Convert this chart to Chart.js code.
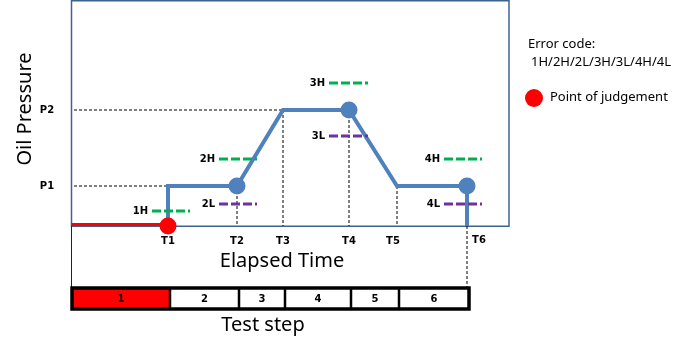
<!DOCTYPE html>
<html>
<head>
<meta charset="utf-8">
<script src="https://cdn.jsdelivr.net/npm/chart.js@4"></script>
<style>
  body { margin: 0; background: #fff; }
  canvas { display: block; }
</style>
</head>
<body>
<canvas id="myChart" width="700" height="354"></canvas>
<script>
// time marks on the elapsed time axis
const tickNames = ['T1', 'T2', 'T3', 'T4', 'T5', 'T6'];
const tickTimes = [9.7, 16.6, 21.2, 27.8, 32.6, 39.6];

// pressure levels
const pressureNames = ['P1', 'P2'];
const pressureLevels = [20, 58];

// error code limits (level, start time, end time)
const limitCodes = ['1H', '2H', '2L', '3H', '3L', '4H', '4L'];
const limitLevels = [7.5, 33.5, 11, 71.5, 45, 33.5, 11];
const limitStart = [8.1, 14.8, 14.8, 25.8, 25.8, 37.3, 37.3];
const limitEnd = [11.9, 18.6, 18.6, 29.7, 29.7, 41.1, 41.1];

// test steps
const stepNames = ['1', '2', '3', '4', '5', '6'];
const activeStep = 0;

const BLUE = '#4F81BD';
const FRAME = '#3F6190';

const T = tickTimes;
const P1 = pressureLevels[0], P2 = pressureLevels[1];

// pressure profile
const profile = [
  {x: T[0], y: 0}, {x: T[0], y: P1}, {x: T[1], y: P1}, {x: T[2], y: P2},
  {x: T[3], y: P2}, {x: T[4], y: P1}, {x: T[5], y: P1}, {x: T[5], y: 0}
];

const judgeBlue = [{x: T[1], y: P1}, {x: T[3], y: P2}, {x: T[5], y: P1}];
const judgeRed = [{x: T[0], y: 0}];

const datasets = [];
datasets.push({ data: judgeRed, pointRadius: 8.5, pointBackgroundColor: '#FF0000', pointBorderWidth: 0, showLine: false, clip: false });
datasets.push({ data: judgeBlue, pointRadius: 8.5, pointBackgroundColor: BLUE, pointBorderWidth: 0, showLine: false, clip: false });

limitCodes.forEach((code, i) => {
  datasets.push({
    data: [{x: limitStart[i], y: limitLevels[i]}, {x: limitEnd[i], y: limitLevels[i]}],
    showLine: true, pointRadius: 0, borderWidth: 3, borderDash: [9, 3],
    borderColor: code.endsWith('H') ? '#00B050' : '#7030A0'
  });
});

datasets.push({ data: profile, showLine: true, pointRadius: 0, borderWidth: 4, borderColor: BLUE, borderJoinStyle: 'miter', clip: false });
datasets.push({ data: [{x: 0, y: 0.7}, {x: T[0], y: 0.7}], showLine: true, pointRadius: 0, borderWidth: 3, borderColor: '#FF0000', clip: false });

// dashed guide lines
const guides = [
  [{x: 0.3, y: P1}, {x: T[0], y: P1}],
  [{x: 0.3, y: P2}, {x: T[2], y: P2}],
  [{x: T[1], y: P1}, {x: T[1], y: 0}],
  [{x: T[2], y: P2}, {x: T[2], y: 0}],
  [{x: T[3], y: P2}, {x: T[3], y: 0}],
  [{x: T[4], y: P1}, {x: T[4], y: 0}],
  [{x: T[5], y: 0}, {x: T[5], y: -30.5}]
];
guides.forEach(g => {
  datasets.push({ data: g, showLine: true, pointRadius: 0, borderWidth: 1, borderDash: [3, 2], borderColor: '#000', clip: false });
});

const diagram = {
  id: 'diagram',
  beforeDatasetsDraw(chart) {
    const ctx = chart.ctx;
    const a = chart.chartArea;
    const xs = chart.scales.x;
    ctx.save();
    // frame
    ctx.strokeStyle = FRAME;
    ctx.lineWidth = 1.5;
    ctx.strokeRect(a.left + 0.5, a.top + 0.75, a.right - a.left - 0.5, a.bottom - a.top - 0.5);
    ctx.beginPath();
    ctx.moveTo(a.left + 0.5, a.bottom);
    ctx.lineTo(a.left + 0.5, a.bottom + 61);
    ctx.strokeStyle = '#222';
    ctx.lineWidth = 1;
    ctx.stroke();

    // test step boxes
    const edges = [0].concat(tickTimes).map(v => xs.getPixelForValue(v) + 2);
    edges[0] = a.left + 1;
    const top = a.bottom + 62, h = 21;
    ctx.fillStyle = '#FF0000';
    ctx.fillRect(edges[activeStep], top, edges[activeStep + 1] - edges[activeStep], h);
    ctx.strokeStyle = '#000';
    ctx.lineWidth = 2.5;
    for (let i = 1; i < edges.length - 1; i++) {
      ctx.beginPath();
      ctx.moveTo(edges[i], top);
      ctx.lineTo(edges[i], top + h);
      ctx.stroke();
    }
    ctx.lineWidth = 3.5;
    ctx.strokeRect(edges[0], top, edges[edges.length - 1] - edges[0], h);
    ctx.fillStyle = '#000';
    ctx.font = 'bold 10px "DejaVu Sans"';
    ctx.textAlign = 'center';
    ctx.textBaseline = 'middle';
    stepNames.forEach((s, i) => {
      ctx.fillText(s, (edges[i] + edges[i + 1]) / 2, top + h / 2 + 1);
    });
    ctx.restore();
  },
  afterDraw(chart) {
    const ctx = chart.ctx;
    const a = chart.chartArea;
    const xs = chart.scales.x, ys = chart.scales.y;
    ctx.save();
    ctx.fillStyle = '#000';
    ctx.textBaseline = 'middle';

    // limit labels
    ctx.font = 'bold 10px "DejaVu Sans"';
    ctx.textAlign = 'right';
    limitCodes.forEach((code, i) => {
      ctx.fillText(code, xs.getPixelForValue(limitStart[i]) - 4, ys.getPixelForValue(limitLevels[i]));
    });

    // pressure labels
    ctx.textAlign = 'center';
    pressureNames.forEach((p, i) => {
      ctx.fillText(p, a.left - 24, ys.getPixelForValue(pressureLevels[i]));
    });

    // time labels
    tickNames.forEach((t, i) => {
      let x = xs.getPixelForValue(tickTimes[i]);
      let y = a.bottom + 15;
      if (i === tickNames.length - 1) { x += 12; y -= 1; }
      if (i === 4) x -= 4;
      ctx.fillText(t, x, y);
    });

    // axis titles
    ctx.font = '20px "Noto Sans"';
    ctx.fillText('Elapsed Time', a.left + 211, a.bottom + 35);
    ctx.fillText('Test step', a.left + 192, a.bottom + 99);
    ctx.save();
    ctx.translate(25, 109);
    ctx.rotate(-Math.PI / 2);
    ctx.fillText('Oil Pressure', 0, 0);
    ctx.restore();

    // legend
    ctx.font = '13px "Noto Sans"';
    ctx.textAlign = 'left';
    ctx.fillText('Error code:', 528, 44);
    ctx.fillText(limitCodes.join('/'), 531, 62);
    ctx.beginPath();
    ctx.arc(534, 98, 9, 0, Math.PI * 2);
    ctx.fillStyle = '#FF0000';
    ctx.fill();
    ctx.fillStyle = '#000';
    ctx.fillText('Point of judgement', 550, 97);
    ctx.restore();
  }
};

new Chart(document.getElementById('myChart'), {
  type: 'scatter',
  data: { datasets },
  options: {
    responsive: false,
    animation: false,
    layout: { autoPadding: false, padding: { left: 71, right: 191, top: 0, bottom: 128 } },
    scales: {
      x: { type: 'linear', min: 0, max: 43.8, display: false },
      y: { type: 'linear', min: 0, max: 113, display: false }
    },
    plugins: {
      legend: { display: false },
      tooltip: { enabled: false }
    }
  },
  plugins: [diagram]
});
</script>
</body>
</html>
